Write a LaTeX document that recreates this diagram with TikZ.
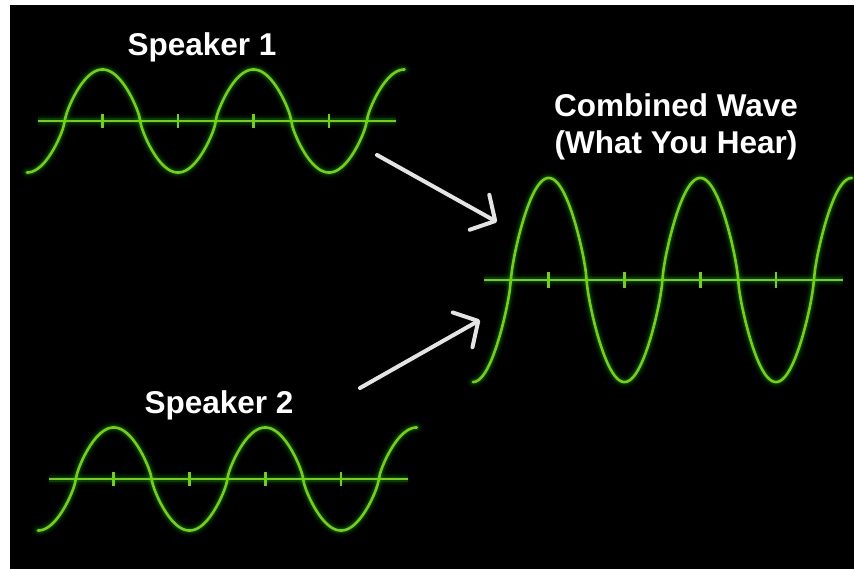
\documentclass[tikz,border=0pt]{standalone}
\usepackage{fontspec}
\setmainfont{Liberation Sans}
\usetikzlibrary{arrows.meta}
\definecolor{wavegreen}{RGB}{112,212,8}
\definecolor{glowgreen}{RGB}{40,160,0}
\definecolor{arrowgray}{RGB}{228,228,228}
\newcommand{\mywave}[5]{% #1 start x, #2 axis y, #3 amplitude, #4 period, #5 tick half height
  \pgfmathsetmacro{\wk}{360/#4}
  \pgfmathsetmacro{\wend}{#1+2.5*#4}
  \foreach \w/\o in {12/0.07,8/0.12,5/0.2}{
    \draw[glowgreen, line width=\w pt, opacity=\o, line cap=round]
      plot[domain=#1:\wend, samples=300, smooth]
      (\x,{#2+#3*sign(cos(\wk*(\x-#1)))*(abs(cos(\wk*(\x-#1)))+0.0001)^0.75});
    \draw[glowgreen, line width=\w pt, opacity=\o] (#1+11,#2) -- (\wend-9,#2);
  }
  \draw[wavegreen, line width=2.6pt, line cap=round]
    plot[domain=#1:\wend, samples=300, smooth]
    (\x,{#2+#3*sign(cos(\wk*(\x-#1)))*(abs(cos(\wk*(\x-#1)))+0.0001)^0.75});
  \draw[wavegreen, line width=2.4pt] (#1+11,#2) -- (\wend-9,#2);
  \foreach \k in {1,2,3,4}{
    \draw[wavegreen, line width=2.6pt] (#1+\k*#4/2,#2-#5) -- (#1+\k*#4/2,#2+#5);
  }
}
\tikzset{
  label/.style={text=white, font=\bfseries\fontsize{31.5}{37}\selectfont, inner sep=0pt},
  conn/.style={draw=arrowgray, line width=4pt, line cap=round, line join=round,
    -{Straight Barb[length=18pt,width=40pt,line cap=round,line join=round]}},
}
\begin{document}
\begin{tikzpicture}[x=1pt,y=-1pt]
\useasboundingbox (0,0) rectangle (854,569);
\fill[white] (0,0) rectangle (854,569);
\fill[black] (10,5) rectangle (854,569);

\mywave{27}{121}{51.5}{151}{7}
\mywave{38}{479}{51.5}{151.5}{7}
\mywave{473}{280}{102}{151.5}{8}

\node[label, anchor=base] (s1) at (202,56) {Speaker 1};
\node[label, anchor=base] (s2) at (219,413) {Speaker 2};
\node[label, align=center] (cw) at (676,126.5) {Combined Wave\\(What You Hear)};

\coordinate (a1s) at (377,155);
\coordinate (a1e) at (497,222);
\coordinate (a2s) at (360,388);
\coordinate (a2e) at (480,320);
\draw[conn] (a1s) -- (a1e);
\draw[conn] (a2s) -- (a2e);
\end{tikzpicture}
\end{document}
